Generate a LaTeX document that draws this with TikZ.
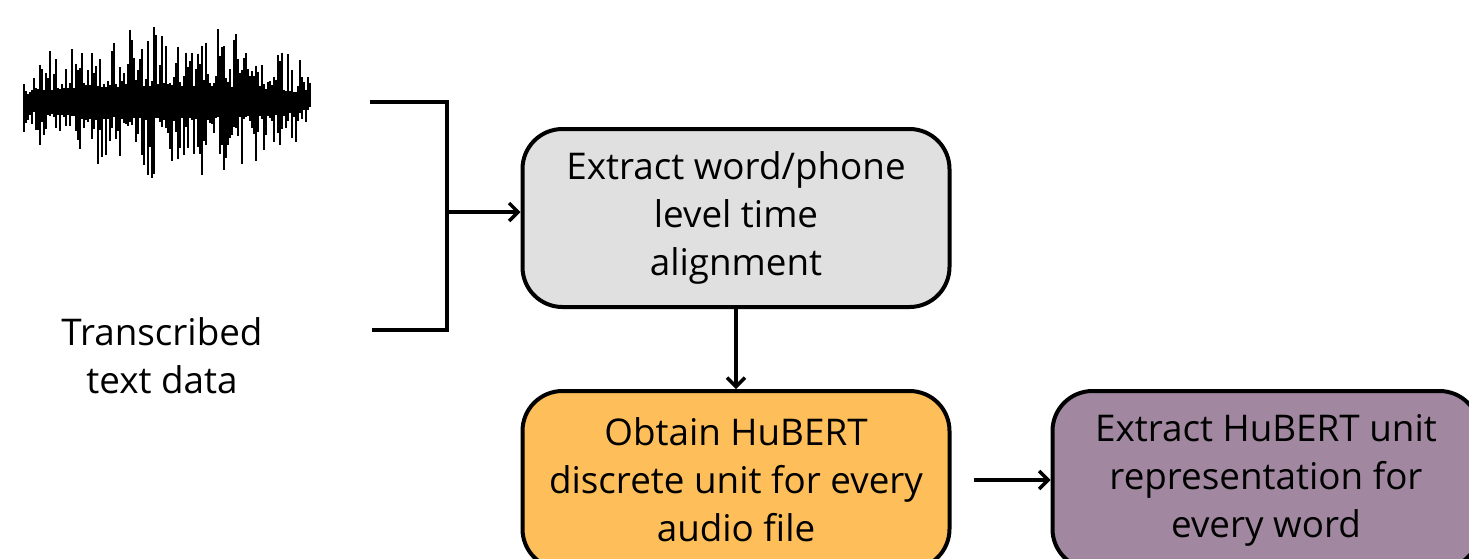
\documentclass[tikz,border=0pt]{standalone}
\usepackage{fontspec}
\setmainfont{Open Sans}
\usetikzlibrary{positioning,arrows.meta}
\definecolor{boxgray}{RGB}{224,224,224}
\definecolor{boxorange}{RGB}{254,190,89}
\definecolor{boxpurple}{RGB}{161,136,160}
\tikzset{
  stepbox/.style={draw=black, line width=2pt, rounded corners=20pt, minimum width=213.5pt, minimum height=89pt, align=center, font=\fontsize{18.4}{24}\selectfont},
  link/.style={line width=1.7pt, -{Straight Barb[length=4.5pt,width=9pt,line width=1.7pt]}},
  wave/.style={line width=1.1pt, black}
}
\begin{document}
\begin{tikzpicture}[x=0.5pt,y=-0.5pt]
      \useasboundingbox (0,0) rectangle (1469,558);
      \clip (0,0) rectangle (1469,558);
      % audio waveform
      \pgfmathsetseed{11}
      \foreach \i in {0,...,143}{
        \pgfmathsetmacro\xx{24+2*\i}
        \pgfmathsetmacro\env{0.3+0.7*sqrt(max(0,1-((\xx-166)/144)^2))}
        \pgfmathsetmacro\up{\env*(16+62*rnd^2)}
        \pgfmathsetmacro\dn{\env*(16+62*rnd^2)}
        \draw[wave] (\xx,102-\up) -- (\xx,102+\dn);
      }
      \node[font=\fontsize{18.4}{24}\selectfont, align=center] (txt) at (162,356) {Transcribed\\text data};
      % bracket joining both inputs
      \coordinate (wtop) at (370,102);
      \coordinate (ttop) at (372,330);
      \coordinate (bup) at (447,102);
      \coordinate (bdn) at (447,330);
      \coordinate (brk) at (447,212);
      \node[stepbox, fill=boxgray] (align) at (736,218) {Extract word/phone\\level time\\alignment};
      \node[stepbox, fill=boxorange, below=40pt of align.south, anchor=north] (units) {Obtain HuBERT\\discrete unit for every\\audio file};
      \node[stepbox, fill=boxpurple, right=49.5pt of units] (repr) {Extract HuBERT unit\\representation for\\every word};
      \draw[line width=1.8pt] (wtop) -- (bup) -- (bdn) -- (ttop);
      \draw[link] (brk) -- (brk -| align.west);
      \draw[link] (align) -- (units);
      \draw[link] ([xshift=11pt]units.east) -- (repr);
    \end{tikzpicture}
\end{document}
